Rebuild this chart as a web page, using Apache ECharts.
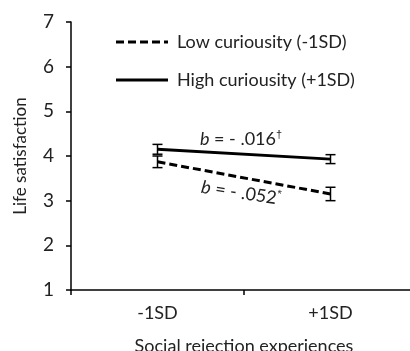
<!DOCTYPE html>
<html><head><meta charset="utf-8">
<script src="https://cdn.jsdelivr.net/npm/echarts@6/dist/echarts.min.js"></script>
<style>html,body{margin:0;padding:0;background:#fff}#c{width:410px;height:351px}</style>
</head><body><div id="c"></div>
<script>
const categories = ['-1SD', '+1SD'];
const lowCuriosity = [3.87, 3.15];
const highCuriosity = [4.15, 3.93];
const lowErr = [0.13, 0.15];
const highErr = [0.11, 0.10];
const seriesNames = ['Low curiousity (-1SD)', 'High curiousity (+1SD)'];
const FONT = 'Lato';
const TXT = '#222';

function errSeries(name, vals, errs) {
  return {
    type: 'custom', name: name + ' err', silent: true, z: 5,
    data: vals.map((v, i) => [i, v - errs[i], v + errs[i]]),
    renderItem: function (params, api) {
      const lo = api.coord([api.value(0), api.value(1)]);
      const hi = api.coord([api.value(0), api.value(2)]);
      const w = 5;
      const st = { stroke: '#000', lineWidth: 1.5 };
      return { type: 'group', children: [
        { type: 'line', shape: { x1: lo[0], y1: lo[1], x2: hi[0], y2: hi[1] }, style: st },
        { type: 'line', shape: { x1: lo[0] - w, y1: lo[1], x2: lo[0] + w, y2: lo[1] }, style: st },
        { type: 'line', shape: { x1: hi[0] - w, y1: hi[1], x2: hi[0] + w, y2: hi[1] }, style: st }
      ]};
    }
  };
}

const chart = echarts.init(document.getElementById('c'));
chart.setOption({
  animation: false,
  textStyle: { fontFamily: FONT },
  grid: { left: 71, top: 22, bottom: 61, width: 346, containLabel: false, outerBoundsMode: 'none' },
  xAxis: {
    type: 'category', data: categories, boundaryGap: true,
    name: 'Social rejection experiences', nameLocation: 'middle', nameGap: 47,
    nameTextStyle: { fontFamily: FONT, fontSize: 18, color: TXT },
    axisLine: { lineStyle: { color: '#000', width: 1.5 } },
    axisTick: { show: true, length: 5, lineStyle: { color: '#000', width: 1.5 } },
    axisLabel: { fontFamily: FONT, fontSize: 18, color: TXT, margin: 14 }
  },
  yAxis: {
    type: 'value', min: 1, max: 7, interval: 1,
    name: 'Life satisfaction', nameLocation: 'middle', nameGap: 42,
    nameTextStyle: { fontFamily: FONT, fontSize: 17, color: TXT },
    axisLine: { show: true, lineStyle: { color: '#000', width: 1.5 } },
    axisTick: { show: true, length: 5, lineStyle: { color: '#000', width: 1.5 } },
    axisLabel: { fontFamily: FONT, fontSize: 19, color: TXT, margin: 17 },
    splitLine: { show: false }
  },
  series: [
    { name: seriesNames[0], type: 'line', data: lowCuriosity, symbol: 'none',
      lineStyle: { color: '#000', width: 3, type: [8, 4] } },
    { name: seriesNames[1], type: 'line', data: highCuriosity, symbol: 'none',
      lineStyle: { color: '#000', width: 3, type: 'solid' } },
    errSeries('low', lowCuriosity, lowErr),
    errSeries('high', highCuriosity, highErr)
  ],
  graphic: [
    { type: 'line', shape: { x1: 116, y1: 42, x2: 168, y2: 42 }, style: { stroke: '#000', lineWidth: 3, lineDash: [8, 4] } },
    { type: 'text', x: 177, y: 42, style: { text: seriesNames[0], font: '18px ' + FONT, fill: TXT, verticalAlign: 'middle' } },
    { type: 'line', shape: { x1: 116, y1: 80, x2: 168, y2: 80 }, style: { stroke: '#000', lineWidth: 3 } },
    { type: 'text', x: 177, y: 80, style: { text: seriesNames[1], font: '18px ' + FONT, fill: TXT, verticalAlign: 'middle' } },
    { type: 'text', x: 241, y: 139, style: {
        text: '{i|b} = - .016{s|†}', align: 'center', verticalAlign: 'middle',
        font: '18px ' + FONT, fill: TXT,
        rich: { i: { fontStyle: 'italic', fontSize: 18, fontFamily: FONT }, s: { fontSize: 11, padding: [0, 0, 9, 0] } } } },
    { type: 'text', x: 241, y: 193, rotation: -0.15, style: {
        text: '{i|b} = - .052{s|*}', align: 'center', verticalAlign: 'middle',
        font: '18px ' + FONT, fill: TXT,
        rich: { i: { fontStyle: 'italic', fontSize: 18, fontFamily: FONT }, s: { fontSize: 11, padding: [0, 0, 9, 0] } } } }
  ]
});
</script></body></html>
